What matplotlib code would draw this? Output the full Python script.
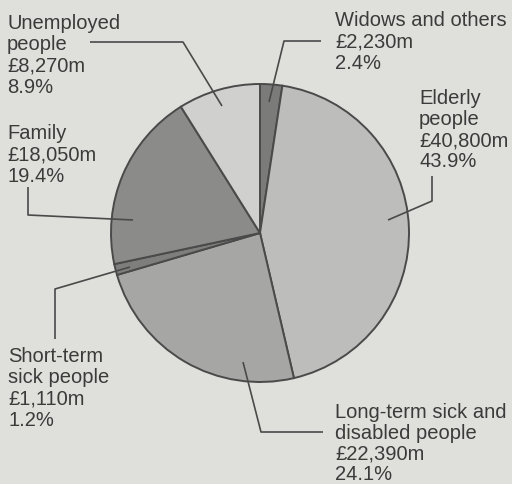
import matplotlib
matplotlib.use("Agg")
import matplotlib.pyplot as plt

# Social security spending by group (£ million), drawn clockwise from 12 o'clock
groups = ["Widows and others", "Elderly people", "Long-term sick and disabled people",
          "Short-term sick people", "Family", "Unemployed people"]
spend_m = [2230, 40800, 22390, 1110, 18050, 8270]
percent = [2.4, 43.9, 24.1, 1.2, 19.4, 8.9]
label_text = [
    "Widows and others\n£2,230m\n2.4%",
    "Elderly\npeople\n£40,800m\n43.9%",
    "Long-term sick and\ndisabled people\n£22,390m\n24.1%",
    "Short-term\nsick people\n£1,110m\n1.2%",
    "Family\n£18,050m\n19.4%",
    "Unemployed\npeople\n£8,270m\n8.9%",
]

W, H = 512, 485
fills = ["#7b7b7a", "#bdbdbb", "#a6a6a4", "#7e7e7d", "#8b8b8a", "#d0d0ce"]
ink = "#3b3b3b"
line_col = "#4a4a4a"
bg = "#dfdfdb"

fig = plt.figure(figsize=(W / 100, H / 100), dpi=100, facecolor=bg)
ax = fig.add_axes([0, 0, 1, 1])
ax.set_facecolor(bg)


def px(x, y):
    """Pixel position (origin top-left) to data coordinates."""
    return x, H - y


cx, cy = px(260, 234)
ax.pie(spend_m, colors=fills, startangle=90, counterclock=False,
       center=(cx, cy), radius=149,
       wedgeprops=dict(edgecolor=line_col, linewidth=1.4))
ax.set_xlim(0, W)
ax.set_ylim(0, H)
ax.set_aspect("equal")
ax.axis("off")

# text anchor (left, top), line spacing and leader polyline for each group
layout = [
    ((335, 11), 1.16, [(321, 42), (284, 42), (269, 103)]),
    ((419, 89), 1.14, [(432, 177), (432, 202), (388, 221)]),
    ((335, 403), 1.12, [(323, 433), (261, 433), (243, 363)]),
    ((8, 347), 1.16, [(55, 340), (55, 290), (130, 268)]),
    ((7, 124), 1.16, [(28, 188), (28, 216), (133, 221)]),
    ((7, 14), 1.16, [(90, 43), (183, 43), (222, 107)]),
]

for txt, (anchor, spacing, path) in zip(label_text, layout):
    ax.text(*px(*anchor), txt, ha="left", va="top", color=ink,
            fontsize=14.5, family="Liberation Sans", linespacing=spacing)
    xs, ys = zip(*[px(*p) for p in path])
    ax.plot(xs, ys, color=line_col, linewidth=1.2, solid_capstyle="butt")

fig.savefig("out.png", dpi=100, facecolor=bg)
